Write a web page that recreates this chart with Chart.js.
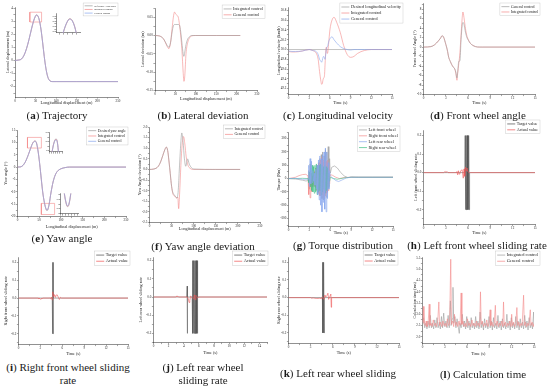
<!DOCTYPE html>
<html lang="en">
<head>
<meta charset="UTF-8">
<title>Integrated vs general control - simulation results</title>
<style>
  * { margin: 0; padding: 0; box-sizing: border-box; }
  body { width: 550px; height: 387px; background: #fff; position: relative; overflow: hidden; }
  canvas { position: absolute; }
  .cap {
    position: absolute; transform: translate(-50%, -50%);
    text-align: center; white-space: nowrap;
    font-family: 'Liberation Serif', serif; font-size: 11px; line-height: 13px; color: #1a1a1a;
  }
</style>
</head>
<body>
<script src="https://cdn.jsdelivr.net/npm/chart.js@4.4.1/dist/chart.umd.min.js"></script>
<script>
const FONT = 'Liberation Serif';
const GRAY = '#9c9c9c', RED = '#f38a8a', BLUE = '#86a6ee', GREEN = '#3fbf84', DARK = '#4a4a4a', RED2 = '#ef5555';

// (a) trajectory
const trajX   = [0, 8, 16, 22, 28, 34, 40, 45, 49, 52, 55, 59, 63, 67, 71, 75, 79, 83, 87, 92, 100, 150, 200, 250];
const trajRef = [0, 0.03, 0.12, 0.4, 0.9, 1.6, 2.4, 3.0, 3.35, 3.5, 3.45, 3.1, 2.4, 1.4, 0.3, -0.6, -1.2, -1.5, -1.6, -1.62, -1.62, -1.62, -1.62, -1.62];
const trajInt = [0, 0.03, 0.12, 0.41, 0.91, 1.61, 2.41, 3.01, 3.36, 3.49, 3.44, 3.1, 2.41, 1.41, 0.31, -0.59, -1.2, -1.5, -1.6, -1.62, -1.62, -1.62, -1.62, -1.62];
const trajGen = [0, 0.03, 0.12, 0.41, 0.92, 1.62, 2.42, 3.02, 3.37, 3.48, 3.43, 3.09, 2.4, 1.4, 0.3, -0.6, -1.21, -1.5, -1.6, -1.62, -1.62, -1.62, -1.62, -1.62];
const trajBoxX = [36, 64.5, 64.5, 36, 36];
const trajBoxY = [2.95, 2.95, 3.7, 3.7, 2.95];

// (b) lateral deviation
const latX   = [0, 10, 20, 25, 30, 34, 38, 42, 45, 48, 51, 54, 57, 60, 63, 66, 69, 71, 73, 76, 80, 85, 90, 100, 150, 209];
const latGen = [0, -0.001, -0.008, -0.018, -0.03, -0.036, -0.02, 0.02, 0.05, 0.064, 0.058, 0.055, 0.05, 0.03, 0.0, -0.04, -0.1, -0.125, -0.11, -0.05, -0.02, -0.006, -0.001, 0, 0, 0];
const latInt = [0, -0.001, -0.008, -0.017, -0.028, -0.032, -0.02, 0.01, 0.026, 0.03, 0.03, 0.03, 0.03, 0.028, 0.01, -0.02, -0.05, -0.057, -0.045, -0.025, -0.01, -0.003, 0, 0, 0, 0];

// (c) longitudinal velocity
const velT   = [0, 0.5, 1, 2, 3, 3.5, 4, 4.3, 4.5, 4.7, 4.8, 4.9, 5.0, 5.1, 5.2, 5.3, 5.4, 5.5, 5.6, 5.7, 5.8, 6.0, 6.3, 6.6, 7.0, 7.5, 8.0, 8.5, 9.0, 9.5, 10, 11, 12, 13, 15];
const velInt = [49.96, 49.95, 49.95, 49.97, 50.0, 49.98, 49.93, 49.8, 49.55, 49.35, 49.29, 49.3, 49.38, 49.42, 49.45, 49.7, 49.98, 50.05, 49.92, 49.95, 50.1, 50.4, 50.6, 50.66, 50.55, 50.35, 50.08, 49.9, 49.84, 49.86, 49.92, 49.98, 50, 50, 50];
const velGen = [49.97, 49.96, 49.96, 49.97, 50.0, 49.98, 49.96, 49.9, 49.8, 49.76, 49.74, 49.78, 49.84, 49.86, 49.83, 49.8, 49.9, 50.02, 50.05, 50.08, 50.15, 50.22, 50.26, 50.2, 50.13, 50.06, 50.02, 50.0, 49.99, 50, 50, 50, 50, 50, 50];
const velDesT = [0, 15];
const velDes  = [50, 50];

// (d) front wheel angle
const fwT   = [0, 1, 1.5, 2, 2.3, 2.5, 2.7, 3.0, 3.2, 3.4, 3.6, 3.8, 4.0, 4.2, 4.35, 4.5, 4.6, 4.75, 4.9, 5.05, 5.2, 5.3, 5.45, 5.6, 5.8, 6.05, 6.3, 6.6, 7.0, 7.5, 8, 15];
const fwInt = [0, 0.1, 0.5, 1.3, 1.9, 2.4, 2.1, 0.6, -0.6, -2.2, -3.0, -3.7, -4.2, -4.6, -5.5, -7.0, -5.5, -3.5, -1.2, 2.5, 6.0, 7.4, 6.2, 4.4, 2.6, 1.5, 0.8, 0.4, 0.1, 0, 0, 0];
const fwGen = [0, 0.1, 0.5, 1.3, 1.9, 2.4, 2.1, 0.6, -0.6, -2.2, -3.0, -3.7, -4.2, -4.6, -5.3, -6.5, -5.2, -3.0, -2.9, 1.5, 4.5, 5.2, 4.8, 3.5, 2.2, 1.4, 0.8, 0.4, 0.1, 0, 0, 0];

// (e) yaw angle
const yawX   = [0, 5, 10, 15, 20, 25, 30, 35, 40, 43, 46, 50, 54, 58, 62, 66, 68, 70, 73, 77, 82, 87, 92, 100, 110, 120, 250];
const yawDes = [0, 0.05, 0.3, 1.2, 2.8, 5.0, 7.5, 9.7, 10.6, 10.2, 8.0, 3.0, -3.5, -10, -14.5, -17.2, -17.6, -17.2, -15, -10.5, -6, -3.2, -1.7, -0.7, -0.2, 0, 0];
const yawInt = [0, 0.05, 0.3, 1.2, 2.8, 5.0, 7.5, 9.7, 10.5, 10.1, 8.0, 3.0, -3.5, -10, -14.4, -17.1, -17.5, -17.1, -15, -10.5, -6, -3.2, -1.7, -0.7, -0.2, 0, 0];
const yawGen = [0, 0.05, 0.3, 1.2, 2.8, 5.0, 7.4, 9.6, 10.4, 10.0, 7.9, 3.0, -3.4, -9.9, -14.3, -17.0, -17.4, -17.0, -14.9, -10.5, -6, -3.2, -1.7, -0.7, -0.2, 0, 0];
const yawBox1X = [23, 55, 55, 23, 23];
const yawBox1Y = [7.7, 7.7, 12, 12, 7.7];
const yawBox2X = [55, 85.5, 85.5, 55, 55];
const yawBox2Y = [-19.2, -19.2, -14.7, -14.7, -19.2];

// (f) yaw angle deviation
const devGenX = [0, 10, 20, 25, 30, 35, 38, 41, 44, 47, 50, 53, 56, 59, 62, 64, 66, 68, 71, 74, 77, 80, 83, 87, 92, 100, 150, 205];
const devGen  = [0, 0.02, 0.15, 0.35, 0.65, 0.95, 1.05, 0.9, 0.4, -0.2, -0.8, -1.15, -1.25, -1.3, -1.35, -1.3, -1.85, -1.2, 0.2, 1.2, 1.55, 1.2, 0.6, 0.2, 0.05, 0, 0, 0];
const devIntX = [0, 10, 20, 25, 30, 35, 38, 41, 44, 47, 50, 53, 56, 59, 62, 65, 67, 69, 71, 73, 76, 79, 82, 86, 90, 95, 100, 150, 205];
const devInt  = [0, 0.02, 0.15, 0.35, 0.65, 0.95, 1.05, 0.9, 0.4, -0.2, -0.8, -1.1, -1.2, -1.28, -1.35, -1.0, -0.2, 0.6, 1.3, 1.72, 1.3, 0.5, 0.15, 0.5, 0.25, 0.08, 0.02, 0, 0];

// (g) torque distribution, [time, torque]
const torqueLF = [[0,0],[1,-3],[2,-12],[2.5,-18],[2.8,-15],[2.9,60],[3.0,-80],[3.1,110],[3.2,-60],[3.3,40],[3.4,-30],[3.5,20],[3.6,-20],[3.7,50],[3.8,-60],[3.9,80],[4.0,-90],[4.1,100],[4.2,-110],[4.3,120],[4.4,-120],[4.5,150],[4.6,-130],[4.7,180],[4.8,-150],[4.9,200],[5.0,-160],[5.1,170],[5.2,-120],[5.3,220],[5.4,-140],[5.5,200],[5.6,-100],[5.7,240],[5.8,-60],[5.9,150],[6.0,40],[6.2,85],[6.6,95],[7.0,80],[7.5,45],[8.0,20],[8.5,8],[9.0,12],[10,10],[12,10],[15,10]];
const torqueRF = [[0,0],[1,10],[1.5,22],[2,30],[2.5,32],[2.8,20],[2.9,-120],[3.0,40],[3.1,-145],[3.2,30],[3.3,-100],[3.4,20],[3.5,-60],[3.6,30],[3.7,-50],[3.8,60],[3.9,-70],[4.0,80],[4.1,-90],[4.2,100],[4.3,-110],[4.4,120],[4.5,-130],[4.6,140],[4.7,-100],[4.8,160],[4.9,-120],[5.0,140],[5.1,-150],[5.2,120],[5.3,-130],[5.4,130],[5.5,-110],[5.6,140],[5.7,-90],[5.8,100],[5.9,-40],[6.0,30],[6.3,25],[6.8,10],[7.3,0],[8,8],[9,10],[15,10]];
const torqueLR = [[0,0],[1,2],[2,-5],[2.8,-5],[2.9,100],[3.0,-60],[3.1,150],[3.2,-40],[3.3,130],[3.4,-30],[3.5,60],[3.6,-20],[3.7,40],[3.8,-50],[3.9,70],[4.0,-80],[4.1,100],[4.2,-120],[4.3,140],[4.4,-160],[4.5,170],[4.6,-200],[4.7,150],[4.8,-250],[4.9,180],[5.0,-180],[5.1,200],[5.2,-230],[5.3,230],[5.4,-250],[5.5,200],[5.6,-150],[5.7,120],[5.8,-80],[5.9,60],[6.0,20],[6.3,5],[6.8,-15],[7.2,-22],[7.7,-10],[8.3,5],[9,10],[15,10]];
const torqueRR = [[0,0],[1,0],[2,2],[2.8,0],[2.9,-30],[3.0,50],[3.1,-60],[3.2,80],[3.3,-90],[3.4,100],[3.5,-100],[3.6,90],[3.7,-110],[3.8,100],[3.9,-100],[4.0,110],[4.1,-120],[4.2,90],[4.3,-100],[4.4,100],[4.5,-90],[4.6,110],[4.7,-120],[4.8,100],[4.9,-100],[5.0,90],[5.1,-80],[5.2,100],[5.3,-110],[5.4,90],[5.5,-90],[5.6,80],[5.7,-70],[5.8,40],[5.9,-20],[6.0,10],[6.5,0],[7,-5],[8,5],[9,10],[15,10]];

// (h)-(k) sliding rates, [time, rate]
const lfTarget = [[0,0],[5.55,0],[5.6,0.2],[5.65,-0.2],[5.7,0.2],[5.75,-0.2],[5.8,0.2],[5.85,-0.2],[5.9,0.2],[5.95,-0.2],[6.0,0.2],[6.05,-0.2],[6.1,0.2],[6.15,-0.2],[6.2,0],[15,0]];
const lfActual = [[0,0],[2.7,0],[2.8,0.004],[2.9,0.002],[3.0,0.006],[3.1,0.003],[3.2,0.005],[3.3,0],[4.4,0],[4.5,0.006],[4.6,-0.012],[4.7,0.01],[4.8,-0.008],[4.9,-0.003],[5.0,0.01],[5.2,0.015],[5.35,-0.03],[5.45,0.02],[5.55,-0.02],[5.65,0.03],[5.75,0.01],[5.85,0.025],[5.95,0.005],[6.1,0.002],[6.3,0],[15,0]];
const rfTarget = [[0,0],[4.62,0],[4.64,0.2],[4.66,-0.2],[4.68,0.2],[4.7,-0.2],[4.72,0.2],[4.74,-0.2],[4.76,0.2],[4.78,0],[15,0]];
const rfActual = [[0,0],[2.7,0],[2.8,-0.004],[2.9,-0.002],[3.0,-0.006],[3.1,-0.003],[3.2,-0.005],[3.3,0],[4.3,0],[4.4,-0.004],[4.5,0.006],[4.6,-0.01],[4.7,0.035],[4.8,0.01],[4.9,0.02],[5.0,0.005],[5.1,0.015],[5.3,0.018],[5.45,0.005],[5.6,-0.008],[5.75,0.004],[5.9,0],[15,0]];
const lrTarget = [[0,0],[4.4,0],[4.45,0.06],[4.47,-0.2],[4.5,0],[5.1,0],[5.15,0.2],[5.2,-0.2],[5.25,0.2],[5.3,-0.2],[5.35,0.2],[5.4,-0.2],[5.45,0.2],[5.5,-0.2],[5.55,0.2],[5.6,-0.2],[5.65,0.2],[5.7,-0.2],[5.75,0.2],[5.8,-0.2],[5.85,0],[15,0]];
const lrActual = [[0,0],[2.9,0],[3.0,0.004],[3.1,0.002],[3.2,0.005],[3.3,0],[4.5,0],[4.6,-0.01],[4.7,-0.03],[4.8,-0.02],[4.9,0.005],[5.3,-0.01],[5.4,0.012],[5.5,-0.015],[5.6,0.01],[5.7,0.005],[5.8,-0.005],[6.0,0],[15,0]];
const rrTarget = [[0,0],[4.6,0],[4.63,0.2],[4.66,-0.2],[4.69,0.2],[4.72,-0.2],[4.75,0.2],[4.78,-0.2],[4.81,0.2],[4.84,-0.2],[4.87,0],[15,0]];
const rrActual = [[0,0],[3.0,0],[3.1,-0.003],[3.4,-0.002],[3.8,-0.005],[4.2,-0.004],[4.5,-0.006],[4.6,0.005],[4.8,-0.01],[4.95,0.015],[5.05,0.003],[5.2,0.01],[5.35,0.025],[5.45,-0.01],[5.6,0.005],[5.75,0.02],[5.8,-0.055],[5.85,0.0],[6.0,0],[15,0]];

// (l) calculation time, [time, ms]
const calcInt = [[0,2.5],[0.15,2.85],[0.3,2.4],[0.45,2.6],[0.6,2.35],[0.75,2.7],[0.9,2.4],[1.05,2.95],[1.2,2.4],[1.35,2.6],[1.5,2.35],[1.65,2.75],[1.8,2.4],[1.95,2.85],[2.1,2.4],[2.25,2.65],[2.4,2.35],[2.55,2.9],[2.7,2.4],[2.85,3.05],[3.0,2.45],[3.15,2.7],[3.3,2.4],[3.45,2.95],[3.6,2.4],[3.75,3.6],[3.85,2.5],[4.0,2.8],[4.1,4.2],[4.2,2.6],[4.35,2.9],[4.5,2.4],[4.65,2.8],[4.8,2.45],[4.95,2.15],[5.05,2.6],[5.2,2.4],[5.35,3.0],[5.5,2.45],[5.65,2.7],[5.8,2.35],[5.95,2.9],[6.1,2.4],[6.25,2.7],[6.4,2.3],[6.55,2.85],[6.7,2.4],[6.85,2.6],[7.0,2.35],[7.15,2.9],[7.3,2.4],[7.45,2.7],[7.6,2.35],[7.75,3.1],[7.9,2.4],[8.05,2.65],[8.2,2.3],[8.35,2.8],[8.5,2.4],[8.65,2.6],[8.8,2.35],[8.95,2.9],[9.1,2.4],[9.25,2.7],[9.4,2.3],[9.55,2.85],[9.7,2.4],[9.85,2.6],[10.0,2.35],[10.15,2.95],[10.3,2.4],[10.45,2.7],[10.6,2.3],[10.75,2.8],[10.9,2.4],[11.05,2.6],[11.2,2.35],[11.35,3.0],[11.5,2.4],[11.65,2.7],[11.8,2.3],[11.95,2.85],[12.1,2.4],[12.25,2.6],[12.4,2.35],[12.55,2.9],[12.7,2.4],[12.85,2.7],[13.0,2.3],[13.15,2.8],[13.3,2.4],[13.45,2.65],[13.6,2.35],[13.75,2.95],[13.9,2.4],[14.05,2.7],[14.2,2.3],[14.35,2.85],[14.5,2.4],[14.65,2.6],[14.8,2.35],[14.95,3.1],[15.0,2.5]];
const calcGen = [[0,2.65],[0.1,3.35],[0.2,2.6],[0.35,2.5],[0.5,2.7],[0.6,2.45],[0.75,2.55],[0.9,3.45],[1.0,2.5],[1.15,2.6],[1.3,2.45],[1.45,2.75],[1.6,2.5],[1.75,2.6],[1.9,2.45],[2.05,2.7],[2.2,3.55],[2.3,2.5],[2.45,2.65],[2.6,2.45],[2.75,2.7],[2.9,2.5],[3.05,2.6],[3.2,2.45],[3.35,2.8],[3.5,2.5],[3.65,2.6],[3.8,5.45],[3.9,2.55],[4.05,2.7],[4.2,2.45],[4.3,3.0],[4.45,2.5],[4.6,2.65],[4.75,2.45],[4.9,2.7],[5.05,2.5],[5.2,3.95],[5.3,2.55],[5.45,2.7],[5.6,2.45],[5.75,2.6],[5.9,2.45],[6.05,2.8],[6.2,2.5],[6.35,2.6],[6.5,2.45],[6.65,2.75],[6.8,2.5],[6.95,2.6],[7.1,2.45],[7.25,2.7],[7.4,2.5],[7.55,2.6],[7.7,2.45],[7.8,4.0],[7.9,2.55],[8.05,2.7],[8.2,2.45],[8.35,2.6],[8.5,2.5],[8.65,2.75],[8.8,2.45],[8.95,2.6],[9.1,3.2],[9.2,2.5],[9.35,2.65],[9.5,2.45],[9.65,2.6],[9.8,3.4],[9.9,2.5],[10.05,2.7],[10.2,2.45],[10.35,2.6],[10.5,2.5],[10.65,2.7],[10.8,2.45],[10.9,3.55],[11.0,2.5],[11.15,2.65],[11.3,2.45],[11.45,2.6],[11.6,2.5],[11.75,2.7],[11.9,2.45],[12.0,3.0],[12.1,2.5],[12.25,2.65],[12.4,2.45],[12.55,2.6],[12.7,3.3],[12.8,2.5],[12.95,2.65],[13.1,2.45],[13.25,2.6],[13.4,2.5],[13.6,3.85],[13.7,2.5],[13.85,2.65],[14.0,2.45],[14.15,2.6],[14.3,2.5],[14.5,3.2],[14.6,2.5],[14.75,2.65],[14.9,2.45],[15.0,2.6]];

const xy = (xs, ys) => xs.map((x, i) => ({ x, y: ys[i] }));
const pts = arr => arr.map(p => ({ x: p[0], y: p[1] }));
const line = (label, data, color, extra) =>
  Object.assign({ label, data, borderColor: color, cubicInterpolationMode: 'monotone' }, extra);
const raw = (label, data, color, extra) => Object.assign({ label, data, borderColor: color }, extra);
const rect = (xs, ys) => ({ data: xy(xs, ys), borderColor: RED, borderWidth: 0.6, order: 9 });
const ax = (min, max, from, to, minor, major, dec, title) => ({ min, max, from, to, minor, major, dec, title });

// small boxed legend drawn inside the canvas
Chart.register({
  id: 'boxLegend',
  afterDraw(chart, args, o) {
    if (!o || !o.show) return;
    const ctx = chart.ctx, a = chart.chartArea;
    const items = chart.data.datasets.filter(d => d.label);
    const fs = o.font || 4.2, rh = fs * 1.4, sw = o.sw || 8;
    ctx.save();
    ctx.font = fs + 'px "' + FONT + '"';
    const tw = Math.max(...items.map(d => ctx.measureText(d.label).width));
    const w = tw + sw + 5, h = items.length * rh + 2;
    const x = a.right + (o.dx || 0) - w, y = a.top + (o.dy || 0);
    ctx.fillStyle = '#fff';
    ctx.fillRect(x, y, w, h);
    ctx.strokeStyle = '#c0c0c0';
    ctx.lineWidth = 0.4;
    ctx.strokeRect(x, y, w, h);
    ctx.textBaseline = 'middle';
    items.forEach((d, i) => {
      const cy = y + 1 + rh * (i + 0.5);
      ctx.strokeStyle = d.borderColor;
      ctx.lineWidth = 0.7;
      ctx.beginPath();
      ctx.moveTo(x + 1.5, cy);
      ctx.lineTo(x + 1.5 + sw, cy);
      ctx.stroke();
      ctx.fillStyle = '#222';
      ctx.fillText(d.label, x + 3 + sw, cy);
    });
    ctx.restore();
  }
});

function makeAxis(pos, a, tickSize, titleSize, size) {
  const list = [];
  const n = Math.round((a.to - a.from) / a.minor);
  for (let i = 0; i <= n; i++) list.push(+(a.from + i * a.minor).toFixed(6));
  const major = v => Math.abs(v / a.major - Math.round(v / a.major)) < 1e-6;
  return {
    type: 'linear', position: pos, min: a.min, max: a.max,
    afterBuildTicks: s => { s.ticks = list.map(v => ({ value: v })); },
    afterFit: s => { if (pos === 'left') s.width = size; else s.height = size; },
    ticks: {
      autoSkip: false, maxRotation: 0, padding: 0.6, color: '#222',
      font: { family: FONT, size: tickSize },
      callback: v => major(v) ? (+v).toFixed(a.dec || 0) : ''
    },
    grid: { drawOnChartArea: false, tickLength: 1.6, tickWidth: 0.4, tickColor: '#222' },
    border: { color: '#222', width: 0.5 },
    title: { display: !!a.title, text: a.title, color: '#222', padding: 0.4, font: { family: FONT, size: titleSize } }
  };
}

// box = plot area in page pixels [left, top, right, bottom]
function panel(p) {
  const yW = p.yW ?? 12, xH = p.xH ?? 11, padT = p.padT ?? 12, padR = p.padR ?? 14;
  const cv = document.createElement('canvas');
  cv.width = p.box[2] - p.box[0] + yW + padR;
  cv.height = p.box[3] - p.box[1] + padT + xH;
  cv.style.left = (p.box[0] - yW) + 'px';
  cv.style.top = (p.box[1] - padT) + 'px';
  document.body.appendChild(cv);
  const ts = p.tickSize ?? 3.2, tt = p.titleSize ?? 4.2;
  return new Chart(cv, {
    type: 'line',
    data: {
      datasets: p.sets.map((s, i) => Object.assign({ pointRadius: 0, borderWidth: 0.6, fill: false, order: i }, s))
    },
    options: {
      responsive: false, animation: false, events: [],
      layout: { padding: { top: padT, right: padR, left: 0, bottom: 0 } },
      scales: { x: makeAxis('bottom', p.x, ts, tt, xH), y: makeAxis('left', p.y, ts, tt, yW) },
      plugins: { legend: { display: false }, tooltip: { enabled: false }, boxLegend: p.legend || { show: false } }
    }
  });
}

const TIME = 'Time (s)', LONG = 'Longitudinal displacement (m)';
const slideY = (min, max, title) => ax(min, max, -0.25, 0.2, 0.05, 0.1, 1, title);

// (a)
panel({
  box: [15, 7, 118, 97], yW: 10, xH: 9,
  x: ax(0, 250, 0, 250, 25, 50, 0, LONG),
  y: ax(-2.8, 4.1, -2.5, 4, 0.5, 1, 0, 'Lateral displacement (m)'),
  sets: [line('Reference Trajectory', xy(trajX, trajRef), GRAY, { order: 2 }),
         line('Integrated control', xy(trajX, trajInt), RED, { order: 1 }),
         line('General control', xy(trajX, trajGen), BLUE, { order: 0 }),
         rect(trajBoxX, trajBoxY)],
  legend: { show: true, dx: 0, dy: -4, font: 2.6 }
});
panel({
  box: [56, 13, 80, 33], yW: 4, xH: 3, padT: 1, padR: 1, tickSize: 1.6,
  x: ax(36, 64.5, 40, 60, 5, 10, 0, ''),
  y: ax(2.95, 3.7, 3.0, 3.6, 0.1, 0.2, 1, ''),
  sets: [line('', xy(trajX, trajRef), GRAY, { order: 2 }),
         line('', xy(trajX, trajInt), RED, { order: 1 }),
         line('', xy(trajX, trajGen), BLUE, { order: 0 })]
});

// (b)
panel({
  box: [155, 8, 257, 91], yW: 15, xH: 11.5,
  x: ax(0, 250, 0, 250, 25, 50, 0, LONG),
  y: ax(-0.15, 0.075, -0.15, 0.075, 0.025, 0.05, 2, 'Lateral deviation (m)'),
  sets: [line('Integrated control', xy(latX, latInt), GRAY),
         line('General control', xy(latX, latGen), RED)],
  legend: { show: true, dx: 8, dy: -3, font: 4.2 }
});

// (c)
panel({
  box: [288, 7, 392, 95], yW: 12.5, xH: 11.5,
  x: ax(0, 15, 0, 15, 1.5, 3, 0, TIME),
  y: ax(49.08, 50.87, 49.1, 50.8, 0.1, 0.2, 1, 'Longitudinal velocity (km/h)'),
  sets: [line('Desired longitudinal velocity', xy(velDesT, velDes), GRAY, { order: 2 }),
         line('Integrated control', xy(velT, velInt), RED, { order: 1 }),
         line('General control', xy(velT, velGen), BLUE, { order: 0 })],
  legend: { show: true, dx: 11, dy: -4, font: 4.3 }
});

// (d)
panel({
  box: [423, 3, 535, 95], yW: 11.5, xH: 11.5,
  x: ax(0, 15, 0, 15, 1.5, 3, 0, TIME),
  y: ax(-10, 9.3, -10, 9, 1, 2, 0, 'Front wheel Angle (°)'),
  sets: [line('General control', xy(fwT, fwGen), GRAY, { order: 0 }),
         line('Integrated control', xy(fwT, fwInt), RED, { order: 1 })],
  legend: { show: true, dx: 5, dy: 0, font: 3.8 }
});

// (e)
panel({
  box: [17, 130, 126, 217], yW: 14.5, xH: 13.5,
  x: ax(0, 250, 0, 250, 25, 50, 0, LONG),
  y: ax(-20, 15, -20, 15, 2.5, 5, 0, 'Yaw angle (°)'),
  sets: [line('Desired yaw angle', xy(yawX, yawDes), GRAY, { order: 2 }),
         line('Integrated control', xy(yawX, yawInt), RED, { order: 1 }),
         line('General control', xy(yawX, yawGen), BLUE, { order: 0 }),
         rect(yawBox1X, yawBox1Y), rect(yawBox2X, yawBox2Y)],
  legend: { show: true, dx: 2, dy: -3, font: 3.8 }
});
panel({
  box: [49, 132, 62, 152], yW: 4, xH: 3, padT: 1, padR: 1, tickSize: 1.6,
  x: ax(23, 55, 25, 55, 5, 10, 0, ''),
  y: ax(7.7, 12, 8, 12, 1, 2, 0, ''),
  sets: [line('', xy(yawX, yawDes), GRAY, { order: 2 }),
         line('', xy(yawX, yawInt), RED, { order: 1 }),
         line('', xy(yawX, yawGen), BLUE, { order: 0 })]
});
panel({
  box: [60, 193, 78, 214], yW: 4, xH: 3, padT: 1, padR: 1, tickSize: 1.6,
  x: ax(55, 85.5, 55, 85, 5, 10, 0, ''),
  y: ax(-19.2, -14.7, -19, -15, 1, 2, 0, ''),
  sets: [line('', xy(yawX, yawDes), GRAY, { order: 2 }),
         line('', xy(yawX, yawInt), RED, { order: 1 }),
         line('', xy(yawX, yawGen), BLUE, { order: 0 })]
});

// (f)
panel({
  box: [149, 127, 260, 223], yW: 12.5, xH: 9.5,
  x: ax(0, 250, 0, 250, 25, 50, 0, LONG),
  y: ax(-2.5, 2.0, -2.5, 2.0, 0.25, 0.5, 1, 'Yaw Angle deviation (°)'),
  sets: [line('Integrated control', xy(devIntX, devInt), GRAY),
         line('General control', xy(devGenX, devGen), RED)],
  legend: { show: true, dx: 5, dy: -2, font: 4.0 }
});

// (g)
panel({
  box: [288, 132, 393, 227], yW: 12.5, xH: 9.5,
  x: ax(0, 15, 0, 15, 1.5, 3, 0, TIME),
  y: ax(-360, 350, -350, 350, 50, 100, 0, 'Torque (Nm)'),
  sets: [raw('Left front wheel', pts(torqueLF), GRAY, { order: 3 }),
         raw('Right front wheel', pts(torqueRF), RED, { order: 2 }),
         raw('Left rear wheel', pts(torqueLR), BLUE, { order: 0 }),
         raw('Right rear wheel', pts(torqueRR), GREEN, { order: 1 })],
  legend: { show: true, dx: 7, dy: -6, font: 4.2 }
});

// (h)
panel({
  box: [423, 130, 535, 225], yW: 10.5, xH: 11.5,
  x: ax(0, 15, 0, 15, 1.5, 3, 0, TIME),
  y: slideY(-0.28, 0.23, 'Left front wheel sliding rate'),
  sets: [raw('Target value', pts(lfTarget), DARK, { order: 1, borderWidth: 0.5 }),
         raw('Actual value', pts(lfActual), RED2, { order: 0 })],
  legend: { show: true, dx: 5, dy: -10, font: 4.2 }
});

// (i)
panel({
  box: [18, 257, 128, 345], yW: 15.5, xH: 12.5,
  x: ax(0, 15, 0, 15, 1.5, 3, 0, TIME),
  y: slideY(-0.26, 0.23, 'Right front wheel sliding rate'),
  sets: [raw('Target value', pts(rfTarget), DARK, { order: 1, borderWidth: 0.5 }),
         raw('Actual value', pts(rfActual), RED2, { order: 0 })],
  legend: { show: true, dx: 2, dy: -6, font: 4.4 }
});

// (j)
panel({
  box: [153, 257, 267, 343], yW: 15.5, xH: 13.5,
  x: ax(0, 15, 0, 15, 1, 2, 0, TIME),
  y: slideY(-0.25, 0.22, 'Left rear wheel sliding rate'),
  sets: [raw('Target value', pts(lrTarget), DARK, { order: 1, borderWidth: 0.5 }),
         raw('Actual value', pts(lrActual), RED2, { order: 0 })],
  legend: { show: true, dx: 1, dy: -6, font: 4.4 }
});

// (k)
panel({
  box: [288, 257, 399, 344], yW: 12.5, xH: 12.5,
  x: ax(0, 15, 0, 15, 1.5, 3, 0, TIME),
  y: slideY(-0.26, 0.23, 'Right rear wheel sliding rate'),
  sets: [raw('Target value', pts(rrTarget), DARK, { order: 1, borderWidth: 0.5 }),
         raw('Actual value', pts(rrActual), RED2, { order: 0 })],
  legend: { show: true, dx: -1, dy: -6, font: 4.3 }
});

// (l)
panel({
  box: [422, 257, 534, 344], yW: 10.5, xH: 13.5,
  x: ax(0, 15, 0, 15, 1.5, 3, 0, TIME),
  y: ax(1.7, 5.55, 1.75, 5.5, 0.25, 0.5, 1, 'Calculation time (ms)'),
  sets: [raw('Integrated control', pts(calcInt), GRAY, { order: 1 }),
         raw('General control', pts(calcGen), RED, { order: 0 })],
  legend: { show: true, dx: 6, dy: -6, font: 4.4 }
});

// panel captions
const captions = [
  ['a', 'Trajectory', 57, 115],
  ['b', 'Lateral deviation', 203, 115],
  ['c', 'Longitudinal velocity', 338, 115],
  ['d', 'Front wheel angle', 478, 115],
  ['e', 'Yaw angle', 62, 238],
  ['f', 'Yaw angle deviation', 203, 246],
  ['g', 'Torque distribution', 343, 245],
  ['h', 'Left front wheel sliding rate', 477, 245],
  ['i', 'Right front wheel sliding<br>rate', 68, 373.5],
  ['j', 'Left rear wheel<br>sliding rate', 203, 373.5],
  ['k', 'Left rear wheel sliding', 338, 373],
  ['l', 'Calculation time', 483, 374]
];
captions.forEach(([k, text, cx, cy]) => {
  const d = document.createElement('div');
  d.className = 'cap';
  d.style.left = cx + 'px';
  d.style.top = cy + 'px';
  d.innerHTML = '(<b>' + k + '</b>) ' + text;
  document.body.appendChild(d);
});
</script>
</body>
</html>
